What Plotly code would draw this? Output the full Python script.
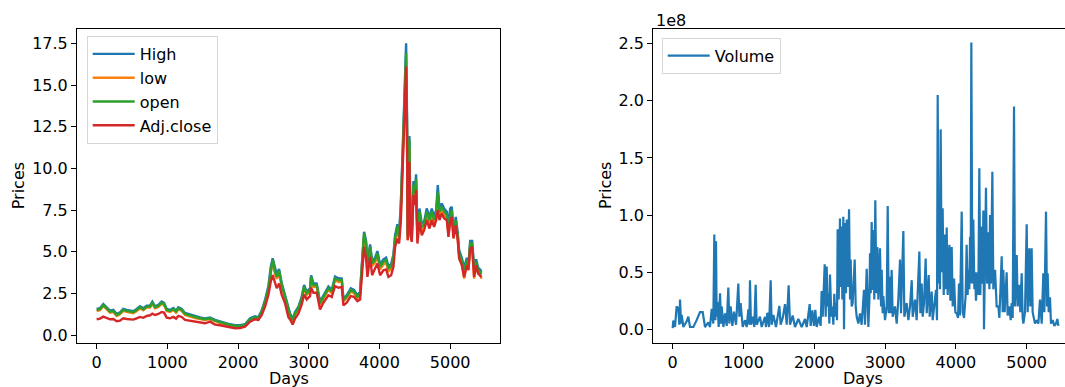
import plotly.graph_objects as go

W, H = 1065, 387
FONT = "DejaVu Sans"
FS = 16

# ---------------- price data ----------------
days = [0, 47, 94, 141, 189, 236, 283, 330, 377, 424,
        472, 519, 566, 613, 660, 708, 755, 788, 826, 873,
        920, 953, 991, 1038, 1085, 1123, 1156, 1203, 1250, 1321,
        1392, 1462, 1533, 1604, 1675, 1745, 1816, 1887, 1958, 2028,
        2099, 2170, 2240, 2288, 2335, 2382, 2429, 2462, 2490, 2523,
        2547, 2580, 2618, 2665, 2712, 2736, 2773, 2806, 2853, 2901,
        2934, 2971, 3018, 3033, 3066, 3113, 3160, 3207, 3278, 3325,
        3372, 3420, 3467, 3490, 3537, 3594, 3641, 3688, 3726, 3754,
        3783, 3811, 3830, 3868, 3896, 3938, 3971, 4009, 4056, 4094,
        4127, 4165, 4198, 4221, 4254, 4278, 4302, 4330, 4349, 4363,
        4377, 4391, 4400, 4415, 4424, 4438, 4457, 4481, 4504, 4518,
        4537, 4566, 4599, 4632, 4669, 4707, 4740, 4773, 4802, 4825,
        4849, 4882, 4915, 4953, 4976, 5000, 5023, 5047, 5080, 5108,
        5127, 5165, 5198, 5236, 5259, 5283, 5311, 5339, 5368, 5396,
        5424, 5443]

high = [1.58, 1.62, 1.88, 1.68, 1.48, 1.52, 1.28, 1.38, 1.58, 1.52,
        1.48, 1.44, 1.58, 1.74, 1.62, 1.78, 1.78, 2.02, 1.74, 1.82,
        2.02, 1.94, 1.58, 1.52, 1.64, 1.48, 1.68, 1.58, 1.34, 1.24,
        1.13, 1.07, 1.01, 1.07, 0.93, 0.83, 0.76, 0.66, 0.60, 0.60,
        0.66, 1.02, 1.14, 1.08, 1.50, 2.12, 2.95, 4.10, 4.62, 3.95,
        3.65, 3.98, 3.12, 2.40, 1.70, 1.30, 0.98, 1.40, 1.70, 2.32,
        3.02, 2.62, 2.82, 3.60, 3.12, 3.10, 2.00, 2.40, 2.92, 2.72,
        3.52, 3.42, 3.40, 2.20, 2.40, 2.82, 2.72, 2.40, 2.62, 4.45,
        6.20, 5.65, 4.45, 5.45, 4.45, 4.65, 5.05, 4.25, 4.55, 4.65,
        4.15, 4.25, 4.85, 6.00, 6.65, 6.10, 7.85, 11.3, 14.0, 16.4,
        17.5, 12.8, 6.10, 9.95, 11.95, 6.50, 6.10, 9.25, 8.70, 9.65,
        6.10, 7.60, 6.70, 6.80, 7.60, 7.10, 7.60, 7.10, 7.50, 9.00,
        7.60, 7.90, 7.60, 7.40, 6.50, 7.60, 7.70, 6.30, 7.10, 6.10,
        5.10, 4.65, 4.05, 4.65, 4.25, 5.65, 5.65, 4.05, 4.55, 4.05,
        3.95, 3.80]

low = [1.46, 1.50, 1.76, 1.56, 1.36, 1.40, 1.16, 1.26, 1.46, 1.40,
       1.36, 1.32, 1.46, 1.62, 1.50, 1.66, 1.66, 1.90, 1.62, 1.70,
       1.90, 1.82, 1.46, 1.40, 1.52, 1.36, 1.56, 1.46, 1.22, 1.12,
       1.03, 0.97, 0.91, 0.97, 0.83, 0.73, 0.68, 0.58, 0.52, 0.52,
       0.58, 0.90, 1.02, 0.96, 1.34, 1.92, 2.70, 3.75, 4.40, 3.66,
       3.38, 3.74, 2.90, 2.22, 1.54, 1.14, 0.86, 1.24, 1.54, 2.12,
       2.82, 2.42, 2.62, 3.40, 2.90, 2.92, 1.84, 2.22, 2.72, 2.52,
       3.30, 3.20, 3.22, 2.04, 2.22, 2.62, 2.52, 2.22, 2.42, 4.15,
       5.95, 5.35, 4.15, 5.15, 4.15, 4.35, 4.75, 3.95, 4.25, 4.35,
       3.85, 3.95, 4.55, 5.60, 6.35, 5.75, 7.35, 10.6, 13.3, 15.2,
       16.2, 11.6, 5.70, 9.30, 11.2, 6.10, 5.70, 8.70, 8.30, 9.05,
       5.70, 7.20, 6.30, 6.40, 7.20, 6.70, 7.20, 6.70, 7.10, 8.20,
       7.20, 7.50, 7.20, 7.00, 6.10, 6.90, 7.30, 5.90, 6.70, 5.70,
       4.70, 4.35, 3.40, 4.35, 3.95, 5.30, 5.30, 3.40, 4.25, 3.75,
       3.65, 3.40]

open_ = [1.52, 1.56, 1.82, 1.62, 1.42, 1.46, 1.22, 1.32, 1.52, 1.46,
         1.42, 1.38, 1.52, 1.68, 1.56, 1.72, 1.72, 1.96, 1.68, 1.76,
         1.96, 1.88, 1.52, 1.46, 1.58, 1.42, 1.62, 1.52, 1.28, 1.18,
         1.08, 1.02, 0.96, 1.02, 0.88, 0.78, 0.72, 0.62, 0.56, 0.56,
         0.62, 0.96, 1.08, 1.02, 1.42, 2.02, 2.82, 3.91, 4.55, 3.81,
         3.51, 3.87, 3.01, 2.31, 1.62, 1.22, 0.92, 1.32, 1.62, 2.22,
         2.92, 2.52, 2.72, 3.51, 3.01, 3.01, 1.92, 2.31, 2.82, 2.62,
         3.41, 3.31, 3.31, 2.12, 2.31, 2.72, 2.62, 2.31, 2.52, 4.31,
         6.11, 5.51, 4.31, 5.31, 4.31, 4.51, 4.91, 4.11, 4.41, 4.51,
         4.01, 4.11, 4.71, 5.81, 6.51, 5.91, 7.61, 11.0, 13.7, 15.8,
         16.9, 12.3, 5.91, 9.70, 11.7, 6.31, 5.91, 9.00, 8.51, 9.40,
         5.91, 7.41, 6.51, 6.61, 7.41, 6.91, 7.41, 6.91, 7.31, 8.60,
         7.41, 7.71, 7.41, 7.21, 6.31, 7.11, 7.51, 6.11, 6.91, 5.91,
         4.91, 4.51, 3.91, 4.51, 4.11, 5.51, 5.51, 3.91, 4.41, 3.91,
         3.81, 3.67]

adj_close = [0.96, 1.00, 1.12, 1.05, 0.96, 0.98, 0.84, 0.88, 1.02, 0.98,
             0.96, 0.94, 1.02, 1.10, 1.05, 1.16, 1.20, 1.30, 1.22, 1.28,
             1.40, 1.36, 1.06, 1.02, 1.10, 1.00, 1.16, 1.10, 0.92, 0.88,
             0.80, 0.76, 0.72, 0.82, 0.64, 0.60, 0.56, 0.48, 0.42, 0.44,
             0.52, 0.82, 0.96, 0.92, 1.22, 1.72, 2.42, 3.21, 3.61, 3.11,
             2.82, 3.11, 2.42, 1.92, 1.08, 0.95, 0.65, 1.00, 1.30, 1.85,
             2.45, 2.15, 2.35, 2.85, 2.55, 2.55, 1.55, 1.95, 2.40, 2.30,
             2.95, 2.85, 2.90, 1.80, 1.95, 2.35, 2.30, 2.05, 2.15, 3.70,
             5.30, 4.60, 3.50, 4.70, 3.60, 4.00, 4.30, 3.60, 3.90, 3.95,
             3.50, 3.60, 4.10, 5.30, 5.80, 5.50, 6.80, 10.2, 12.9, 14.8,
             16.1, 11.0, 5.70, 8.50, 10.4, 6.00, 5.60, 8.40, 7.80, 8.70,
             5.50, 6.80, 6.00, 6.30, 6.90, 6.40, 6.90, 6.50, 6.90, 7.50,
             6.90, 7.30, 7.00, 6.90, 5.90, 6.80, 7.10, 5.80, 6.60, 5.70,
             4.60, 4.20, 3.50, 4.20, 3.90, 5.20, 5.30, 3.50, 4.20, 3.70,
             3.60, 3.50]

# ---------------- volume data (units of 1e8) ----------------
vol_days = [0, 9, 33, 56, 80, 94, 104, 118, 127, 151,
            198, 221, 245, 292, 339, 386, 424, 457, 504, 527,
            551, 574, 588, 603, 612, 621, 631, 650, 669, 683,
            692, 716, 739, 763, 786, 800, 819, 843, 866, 895,
            927, 942, 960, 989, 1022, 1045, 1069, 1083, 1092, 1106,
            1130, 1153, 1172, 1186, 1233, 1257, 1304, 1318, 1337, 1361,
            1384, 1398, 1422, 1459, 1507, 1525, 1554, 1587, 1610, 1638,
            1657, 1695, 1728, 1775, 1822, 1869, 1893, 1935, 1949, 1973,
            1996, 2015, 2034, 2067, 2090, 2104, 2119, 2147, 2161, 2175,
            2189, 2199, 2213, 2222, 2241, 2255, 2269, 2283, 2297, 2316,
            2321, 2330, 2345, 2363, 2373, 2387, 2396, 2410, 2420, 2434,
            2448, 2458, 2472, 2491, 2505, 2514, 2528, 2542, 2571, 2585,
            2599, 2622, 2646, 2669, 2702, 2716, 2740, 2754, 2764, 2778,
            2787, 2797, 2811, 2820, 2834, 2848, 2862, 2877, 2891, 2905,
            2928, 2943, 2952, 2966, 2975, 2999, 3023, 3037, 3051, 3060,
            3074, 3093, 3107, 3140, 3164, 3187, 3211, 3225, 3258, 3272,
            3305, 3329, 3352, 3376, 3390, 3423, 3446, 3484, 3498, 3517,
            3531, 3550, 3573, 3588, 3616, 3630, 3658, 3672, 3701, 3719,
            3733, 3743, 3757, 3766, 3776, 3785, 3799, 3813, 3828, 3846,
            3861, 3870, 3884, 3908, 3922, 3941, 3955, 3974, 3992, 4011,
            4030, 4044, 4058, 4082, 4096, 4115, 4138, 4152, 4166, 4176,
            4190, 4200, 4209, 4218, 4232, 4246, 4261, 4270, 4284, 4303,
            4317, 4331, 4345, 4364, 4378, 4388, 4397, 4411, 4425, 4440,
            4458, 4473, 4482, 4496, 4515, 4529, 4553, 4576, 4600, 4614,
            4647, 4661, 4670, 4689, 4717, 4731, 4755, 4774, 4788, 4802,
            4821, 4835, 4859, 4873, 4896, 4910, 4929, 4943, 4953, 4976,
            5000, 5014, 5037, 5051, 5070, 5084, 5094, 5117, 5141, 5165,
            5188, 5212, 5235, 5249, 5259, 5273, 5287, 5296, 5311, 5329,
            5343, 5367, 5391, 5414, 5433, 5447]

volume = [0.01, 0.076, 0.02, 0.20, 0.18, 0.04, 0.26, 0.05, 0.125, 0.02,
          0.07, 0.11, 0.02, 0.02, 0.08, 0.15, 0.15, 0.02, 0.06, 0.02,
          0.18, 0.05, 0.83, 0.08, 0.77, 0.11, 0.24, 0.02, 0.315, 0.05,
          0.20, 0.02, 0.14, 0.03, 0.365, 0.05, 0.20, 0.03, 0.155, 0.04,
          0.40, 0.11, 0.23, 0.02, 0.08, 0.02, 0.175, 0.04, 0.43, 0.04,
          0.11, 0.02, 0.39, 0.04, 0.11, 0.02, 0.11, 0.02, 0.145, 0.02,
          0.43, 0.04, 0.125, 0.02, 0.205, 0.04, 0.10, 0.22, 0.04, 0.385,
          0.04, 0.12, 0.02, 0.09, 0.02, 0.09, 0.02, 0.22, 0.03, 0.165,
          0.03, 0.17, 0.02, 0.11, 0.03, 0.335, 0.11, 0.57, 0.11, 0.55,
          0.20, 0.315, 0.05, 0.48, 0.11, 0.20, 0.04, 0.31, 0.11, 0.23,
          0.08, 0.875, 0.26, 0.97, 0.37, 0.90, 0.26, 0.985, 0.00, 0.93,
          0.315, 0.96, 0.37, 1.05, 0.26, 0.61, 0.20, 0.23, 0.61, 0.20,
          0.11, 0.05, 0.14, 0.04, 0.345, 0.04, 0.53, 0.05, 0.02, 0.26,
          0.665, 0.315, 0.94, 0.345, 0.87, 0.26, 1.13, 0.315, 0.72, 0.26,
          0.71, 0.20, 0.52, 0.14, 0.29, 0.08, 0.20, 1.08, 0.14, 0.46,
          0.14, 0.52, 0.11, 0.20, 0.05, 0.26, 0.61, 0.14, 0.86, 0.11,
          0.23, 0.08, 0.20, 0.43, 0.11, 0.26, 0.08, 0.68, 0.14, 0.40,
          0.11, 0.23, 0.62, 0.14, 0.475, 0.11, 0.33, 0.08, 0.23, 0.345,
          0.08, 2.05, 0.40, 1.10, 0.35, 1.75, 0.50, 1.06, 0.30, 0.83,
          0.35, 0.89, 0.30, 0.74, 0.25, 0.72, 0.20, 0.445, 0.15, 0.14,
          0.10, 0.40, 0.12, 1.03, 0.15, 0.10, 0.30, 0.74, 0.30, 0.52,
          0.35, 0.81, 0.40, 2.51, 0.40, 0.96, 0.35, 0.50, 0.25, 0.50,
          0.30, 1.41, 0.30, 0.90, 0.40, 1.04, 0.00, 0.50, 1.24, 0.40,
          0.85, 0.35, 1.00, 0.40, 1.38, 0.35, 0.52, 0.20, 0.20, 0.10,
          0.64, 0.15, 0.52, 0.15, 0.50, 0.12, 0.20, 0.08, 0.23, 0.10,
          1.95, 0.20, 0.65, 0.20, 0.39, 0.15, 0.49, 0.10, 0.05, 0.15,
          0.92, 0.15, 0.71, 0.20, 0.71, 0.15, 0.11, 0.05, 0.08, 0.05,
          0.26, 0.05, 0.49, 0.15, 0.50, 1.03, 0.20, 0.49, 0.15, 0.28,
          0.05, 0.08, 0.03, 0.05, 0.09, 0.03]

price_ticks = [0.0, 2.5, 5.0, 7.5, 10.0, 12.5, 15.0, 17.5]
vol_ticks = [0.0, 0.5, 1.0, 1.5, 2.0, 2.5]
day_ticks = [0, 1000, 2000, 3000, 4000, 5000]

COLORS = {"High": "#1f77b4", "low": "#ff7f0e", "open": "#2ca02c", "Adj.close": "#d62728"}
LW = 2.4

fig = go.Figure()
for name, ys in [("High", high), ("low", low), ("open", open_), ("Adj.close", adj_close)]:
    fig.add_trace(go.Scatter(x=days, y=ys, mode="lines", name=name,
                             line=dict(color=COLORS[name], width=LW),
                             xaxis="x", yaxis="y", legend="legend"))

n = min(len(vol_days), len(volume))
fig.add_trace(go.Scatter(x=vol_days[:n], y=volume[:n], mode="lines", name="Volume",
                         line=dict(color="#1f77b4", width=2.2),
                         xaxis="x2", yaxis="y2", legend="legend2"))

def px_x(p):
    return p / W

def px_y(p):
    return 1 - p / H

axis_common = dict(showgrid=False, zeroline=False, showline=True, linecolor="black",
                   linewidth=1.1, ticks="outside", ticklen=5, tickwidth=1.1,
                   tickcolor="black", automargin=False,
                   tickfont=dict(family=FONT, size=FS, color="black"))

ydom = [px_y(343), px_y(29)]

legend_common = dict(xanchor="left", yanchor="top",
                     bgcolor="rgba(255,255,255,0.8)", bordercolor="#d6d6d6", borderwidth=1,
                     font=dict(family=FONT, size=FS, color="black"), itemwidth=42)

fig.update_layout(
    width=W, height=H,
    margin=dict(l=0, r=0, t=0, b=0),
    paper_bgcolor="white", plot_bgcolor="white",
    font=dict(family=FONT, size=FS, color="black"),
    xaxis=dict(domain=[px_x(77), px_x(499.5)], range=[-278, 5698],
               tickvals=day_ticks, mirror=True, anchor="y", **axis_common),
    yaxis=dict(domain=ydom, range=[-0.461, 18.357], tickvals=price_ticks,
               tickformat=".1f", mirror=True, anchor="x", **axis_common),
    xaxis2=dict(domain=[px_x(653.3), 1.0], range=[-273.6, 5541],
                tickvals=day_ticks, mirror=True, anchor="y2", **axis_common),
    yaxis2=dict(domain=ydom, range=[-0.1199, 2.6287], tickvals=vol_ticks,
                tickformat=".1f", mirror=False, anchor="x2", **axis_common),
    legend=dict(x=px_x(86.7), y=px_y(36), **legend_common),
    legend2=dict(x=px_x(661.7), y=px_y(37.7), **legend_common),
    showlegend=True,
)

annots = [
    dict(text="Prices", x=px_x(18.3), y=px_y(186), textangle=-90),
    dict(text="Prices", x=px_x(605), y=px_y(186), textangle=-90),
    dict(text="Days", x=px_x(288.7), y=px_y(378)),
    dict(text="Days", x=px_x(863.3), y=px_y(378)),
]
for a in annots:
    fig.add_annotation(xref="paper", yref="paper", showarrow=False,
                       xanchor="center", yanchor="middle", borderpad=0,
                       font=dict(family=FONT, size=FS, color="black"), **a)
fig.add_annotation(text="1e8", xref="paper", yref="paper", x=px_x(654), y=px_y(20.5),
                   xanchor="left", yanchor="middle", showarrow=False,
                   font=dict(family=FONT, size=FS, color="black"))

fig.write_html("out.html")
